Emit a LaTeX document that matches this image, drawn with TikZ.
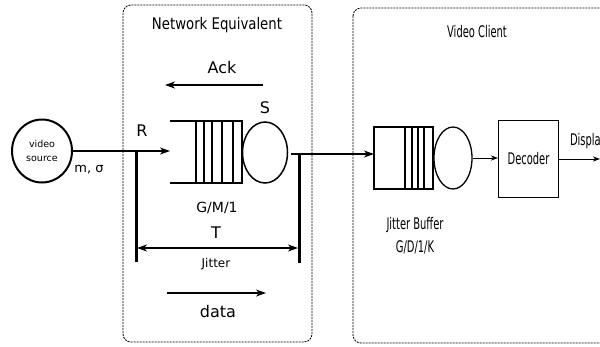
\documentclass[tikz,border=0pt]{standalone}
\usepackage{fontspec}
\setmainfont{DejaVu Sans}
\newfontfamily\netfont{DejaVu Sans}[FakeStretch=0.83]
\newfontfamily\clientfont{DejaVu Sans}[FakeStretch=0.62]
\usetikzlibrary{arrows.meta,shapes.geometric}

\begin{document}
\begin{tikzpicture}[x=1pt, y=-1pt, line width=2pt,
    >={Stealth[length=10pt,width=7pt,inset=3pt]}]


\tikzstyle{region} = [draw, rounded corners=8pt, line width=0.8pt, dash pattern=on 2pt off 1pt]
\tikzstyle{server} = [ellipse, draw, inner sep=0pt]
\tikzstyle{label} = [inner sep=0pt]
\tikzstyle{thin} = [line width=1pt, >={Stealth[length=7pt,width=5pt,inset=2pt]}]

\useasboundingbox (0,0) rectangle (600,346);
\clip (0,0) rectangle (600,346);

% the two dashed regions
\draw[region] (123,5) rectangle (312,342);
\draw[region] (353,8) rectangle (620,343);

\node[label, font=\netfont\fontsize{16}{18}\selectfont] at (217,25) (nettitle) {Network Equivalent};
\node[label, font=\clientfont\fontsize{16}{18}\selectfont] at (477,32) (clienttitle) {Video Client};


\node[server, minimum width=60, minimum height=63, align=center, font=\fontsize{9.5}{14}\selectfont] at (42,151) (src) {video\\source};

% network queue G/M/1
\draw (170,121) -- (242,121) -- (242,183) -- (170,183);
\foreach \x in {196,204,212,222,233}
  \draw[line width=1.5pt] (\x,121) -- (\x,183);
\node[server, line width=1.5pt, minimum width=45, minimum height=61] at (265,152.5) (srv) {};

\coordinate (qin) at (170,151);
\coordinate (qout) at (291,154);
\coordinate (rtop) at (136,151);
\coordinate (rbot) at (136,262);
\coordinate (stop) at (299,154);
\coordinate (sbot) at (299,263);
\coordinate (ackr) at (263,85);
\coordinate (ackl) at (165,85);
\coordinate (tl) at (137,248);
\coordinate (tr) at (298,248);
\coordinate (datal) at (167,293);
\coordinate (datar) at (266,293);

\node[label, font=\fontsize{16}{18}\selectfont] at (222,68) (ack) {Ack};
\node[label, font=\fontsize{16}{18}\selectfont] at (265,108) (slabel) {S};
\node[label, font=\fontsize{16}{18}\selectfont] at (142,131) (rlabel) {R};
\node[label, font=\fontsize{13}{15}\selectfont] at (89,170) (msigma) {m, σ};
\node[label, font=\fontsize{14}{16}\selectfont] at (217,208) (gm1) {G/M/1};
\node[label, font=\fontsize{16}{18}\selectfont] at (216,233) (tlabel) {T};
\node[label, font=\fontsize{12}{14}\selectfont] at (216,264) (jitter) {Jitter};
\node[label, font=\fontsize{16}{18}\selectfont] at (218,312) (data) {data};

% video client
\node[draw, line width=1.3pt, minimum width=59, minimum height=62, inner sep=0pt] at (403.5,158) (jb) {};
\foreach \x in {405,412,418,424}
  \draw[line width=1.3pt] (\x,127) -- (\x,189);
\node[server, line width=1.3pt, minimum width=38, minimum height=62] at (453,158) (jbsrv) {};
\node[draw, line width=1pt, minimum width=60, minimum height=77, font=\clientfont\fontsize{16}{18}\selectfont] at (528.5,158.5) (dec) {Decoder};
\coordinate (jbin) at (374,154);
\coordinate (disp) at (600,159);

\node[label, align=center, font=\clientfont\fontsize{16}{23}\selectfont] at (415,236) (jblabel) {Jitter Buffer\\G/D/1/K};
\node[label, anchor=west, font=\clientfont\fontsize{16}{18}\selectfont] at (569,141) (displabel) {Display};


\path[->]
  (src.east |- qin) edge (qin)
  (ackr) edge (ackl)
  (datal) edge (datar)
;
\path[<->]
  (tl) edge (tr)
;
\path[line width=3pt]
  (rtop) edge (rbot)
  (stop) edge (sbot)
;
\path[->, line width=1.5pt]
  (qout) edge (jbin)
;
\path[->, thin]
  (jbsrv.east) edge (dec.west |- jbsrv.east)
  (dec.east |- disp) edge (disp)
;


\end{tikzpicture}
\end{document}
